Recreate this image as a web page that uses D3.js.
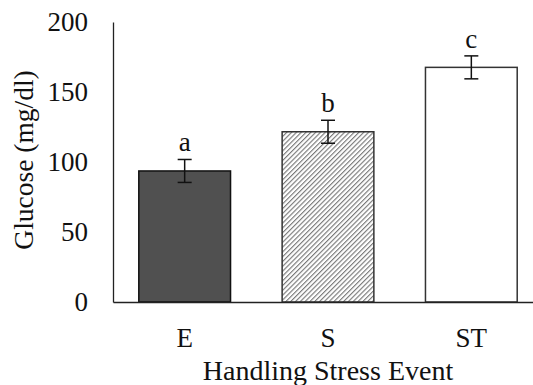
<!DOCTYPE html>
<html><head><meta charset="utf-8">
<script src="https://cdn.jsdelivr.net/npm/d3@7"></script>
<style>body{margin:0;background:#fff}svg{display:block}text{font-family:"Liberation Serif","Times New Roman",serif;fill:#111}</style>
</head><body><svg id="c" width="533" height="385"></svg>
<script>
const categories = ["E", "S", "ST"];
const means = [93.6, 121.6, 167.6];
const errors = [8.2, 8.2, 8.2];
const letters = ["a", "b", "c"];
const yTicks = [0, 50, 100, 150, 200];
const xTitle = "Handling Stress Event";
const yTitle = "Glucose (mg/dl)";

const svg = d3.select("#c");
const fs = 27;
const x = d3.scaleBand().domain(categories).range([113, 543]).paddingInner(0.36).paddingOuter(0.18);
const y = d3.scaleLinear().domain([0, 200]).range([302, 22]);

const defs = svg.append("defs");
defs.append("pattern").attr("id", "hatch").attr("patternUnits", "userSpaceOnUse")
  .attr("width", 3.4).attr("height", 3.4).attr("patternTransform", "rotate(45)")
  .call(p => { p.append("rect").attr("width", 3.4).attr("height", 3.4).attr("fill", "#fff");
               p.append("line").attr("x1", 0.6).attr("y1", 0).attr("x2", 0.6).attr("y2", 3.4)
                .attr("stroke", "#666").attr("stroke-width", 1); });

const fills = ["#505050", "url(#hatch)", "#ffffff"];
const strokes = ["#111", "#333", "#333"];

const data = categories.map((c, i) => ({c, m: means[i], e: errors[i], l: letters[i], i}));

svg.append("g").selectAll("rect").data(data).join("rect")
  .attr("x", d => x(d.c)).attr("width", x.bandwidth())
  .attr("y", d => y(d.m)).attr("height", d => y(0) - y(d.m))
  .attr("fill", d => fills[d.i]).attr("stroke", d => strokes[d.i]).attr("stroke-width", 1.5);

// axes
const yAxis = d3.axisLeft(y).tickValues(yTicks).tickSize(0).tickPadding(25);
const gy = svg.append("g").attr("transform", "translate(113,0)").call(yAxis);
gy.select(".domain").attr("stroke", "#222").attr("stroke-width", 1.3);
gy.selectAll("text").style("font-size", fs + "px").attr("font-family", "Liberation Serif").attr("fill", "#111");

const xAxis = d3.axisBottom(x).tickSize(0).tickPadding(26);
const gx = svg.append("g").attr("transform", "translate(0,302)").call(xAxis);
gx.select(".domain").attr("stroke", "#222").attr("stroke-width", 1.3);
gx.selectAll("text").style("font-size", fs + "px").attr("font-family", "Liberation Serif").attr("fill", "#111");

// error bars
const eb = svg.append("g").attr("stroke", "#111").attr("stroke-width", 1.5);
data.forEach(d => {
  const cx = x(d.c) + x.bandwidth() / 2;
  eb.append("line").attr("x1", cx).attr("x2", cx).attr("y1", y(d.m + d.e)).attr("y2", y(d.m - d.e));
  eb.append("line").attr("x1", cx - 7).attr("x2", cx + 7).attr("y1", y(d.m + d.e)).attr("y2", y(d.m + d.e));
  eb.append("line").attr("x1", cx - 7).attr("x2", cx + 7).attr("y1", y(d.m - d.e)).attr("y2", y(d.m - d.e));
});

svg.append("g").selectAll("text").data(data).join("text")
  .attr("x", d => x(d.c) + x.bandwidth() / 2).attr("y", d => y(d.m + d.e) - 8)
  .attr("text-anchor", "middle").style("font-size", fs + "px").text(d => d.l);

svg.append("text").attr("x", 328).attr("y", 380).attr("text-anchor", "middle")
  .style("font-size", "28px").text(xTitle);
svg.append("text").attr("transform", "translate(33,160) rotate(-90)").attr("text-anchor", "middle")
  .style("font-size", "27.5px").text(yTitle);
</script></body></html>
